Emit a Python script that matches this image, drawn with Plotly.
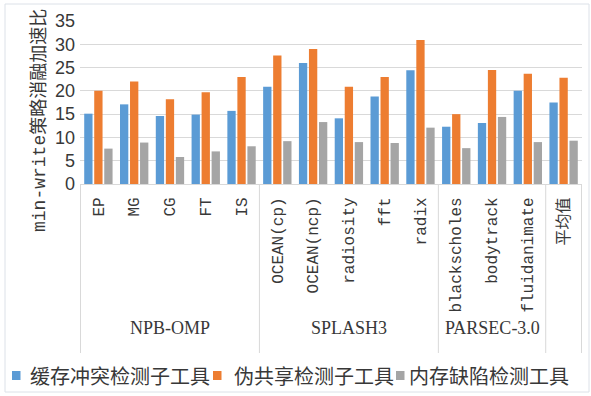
import plotly.graph_objects as go

# Benchmarks (x categories) grouped by suite, plus the overall average
categories = ["EP", "MG", "CG", "FT", "IS",
              "OCEAN(cp)", "OCEAN(ncp)", "radiosity", "fft", "radix",
              "blackscholes", "bodytrack", "fluidanimate",
              "平均值"]
suites = ["NPB-OMP", "SPLASH3", "PARSEC-3.0"]
suite_sizes = [5, 5, 3]

series_names = ["缓存冲突检测子工具", "伪共享检测子工具", "内存缺陷检测工具"]
cache_conflict = [15.1, 17.1, 14.6, 14.9, 15.7, 20.9, 26.0, 14.1, 18.8, 24.4, 12.3, 13.1, 20.0, 17.5]
false_sharing = [20.0, 22.0, 18.2, 19.7, 23.0, 27.6, 29.0, 20.9, 23.0, 30.9, 15.0, 24.5, 23.7, 22.8]
memory_defect = [7.6, 8.9, 5.8, 7.0, 8.1, 9.2, 13.3, 9.0, 8.8, 12.1, 7.7, 14.4, 9.0, 9.3]
series_values = [cache_conflict, false_sharing, memory_defect]
colors = ["#5B9BD5", "#ED7D31", "#A5A5A5"]

W, H = 591, 396
L, R, T, B = 80, 582, 21, 184  # plot area edges in pixels
TEXT = "#383838"
GRID = "#D9D9D9"


def px_x(p):
    return (p - L) / (R - L)


def px_y(p):
    return (B - p) / (B - T)


fig = go.Figure()
for name, vals, col in zip(series_names, series_values, colors):
    fig.add_trace(go.Bar(x=categories, y=vals, name=name, marker_color=col,
                         marker_line_width=0, showlegend=False))

shapes = []
annotations = []

# Vertical dividers between suites below the category axis
bounds = [-0.5]
for n in suite_sizes:
    bounds.append(bounds[-1] + n)
bounds.append(len(categories) - 0.5)
for b in bounds:
    shapes.append(dict(type="line", xref="x", yref="paper", x0=b, x1=b,
                       y0=0, y1=px_y(353), line=dict(color=GRID, width=1)))

# Suite labels centred under their benchmarks
start = 0
for s, n in zip(suites, suite_sizes):
    annotations.append(dict(text=s, xref="x", yref="paper", x=start + (n - 1) / 2,
                            y=px_y(328), showarrow=False, xanchor="center", yanchor="middle",
                            font=dict(family="Liberation Serif", size=18, color=TEXT)))
    start += n

# Y-axis title
annotations.append(dict(text="min-write策略消融加速比", xref="paper", yref="paper",
                        x=px_x(39), y=px_y(121), textangle=-90, showarrow=False,
                        xanchor="center", yanchor="middle",
                        font=dict(family="Liberation Mono, Noto Sans CJK SC", size=18, color=TEXT)))

# Legend row along the bottom
legend_marker_x = [12, 213, 396]
legend_text_x = [28, 232, 407]
ly = 375.5
for name, col, mx, tx in zip(series_names, colors, legend_marker_x, legend_text_x):
    shapes.append(dict(type="rect", xref="paper", yref="paper",
                       x0=px_x(mx), x1=px_x(mx + 8.5), y0=px_y(ly - 4.5), y1=px_y(ly + 4.5),
                       fillcolor=col, line=dict(width=0)))
    annotations.append(dict(text=name, xref="paper", yref="paper", x=px_x(tx), y=px_y(ly),
                            showarrow=False, xanchor="left", yanchor="middle",
                            font=dict(family="Noto Sans CJK SC", size=20, color=TEXT)))

# Light outer frame of the chart
shapes.append(dict(type="rect", xref="paper", yref="paper",
                   x0=px_x(5), x1=px_x(589), y0=px_y(392), y1=px_y(4),
                   line=dict(color="#DCE1E8", width=1), fillcolor="rgba(0,0,0,0)"))

fig.update_layout(
    width=W, height=H,
    margin=dict(l=L, r=W - R, t=T, b=H - B, pad=0),
    paper_bgcolor="white", plot_bgcolor="white",
    barmode="group", bargap=0.16, bargroupgap=0.17,
    shapes=shapes, annotations=annotations,
    xaxis=dict(type="category", tickangle=-90, showgrid=False, ticks="",
               showline=True, linecolor=GRID, linewidth=1,
               ticklabelstandoff=6,
               tickfont=dict(family="Liberation Mono, Noto Sans CJK SC", size=16, color=TEXT)),
    yaxis=dict(range=[0, 35], dtick=5, showgrid=True, gridcolor=GRID, gridwidth=1,
               zeroline=False, showline=False, ticks="",
               ticklabelstandoff=4,
               tickfont=dict(family="Liberation Sans", size=18, color=TEXT)),
)

fig.write_html("out.html")
